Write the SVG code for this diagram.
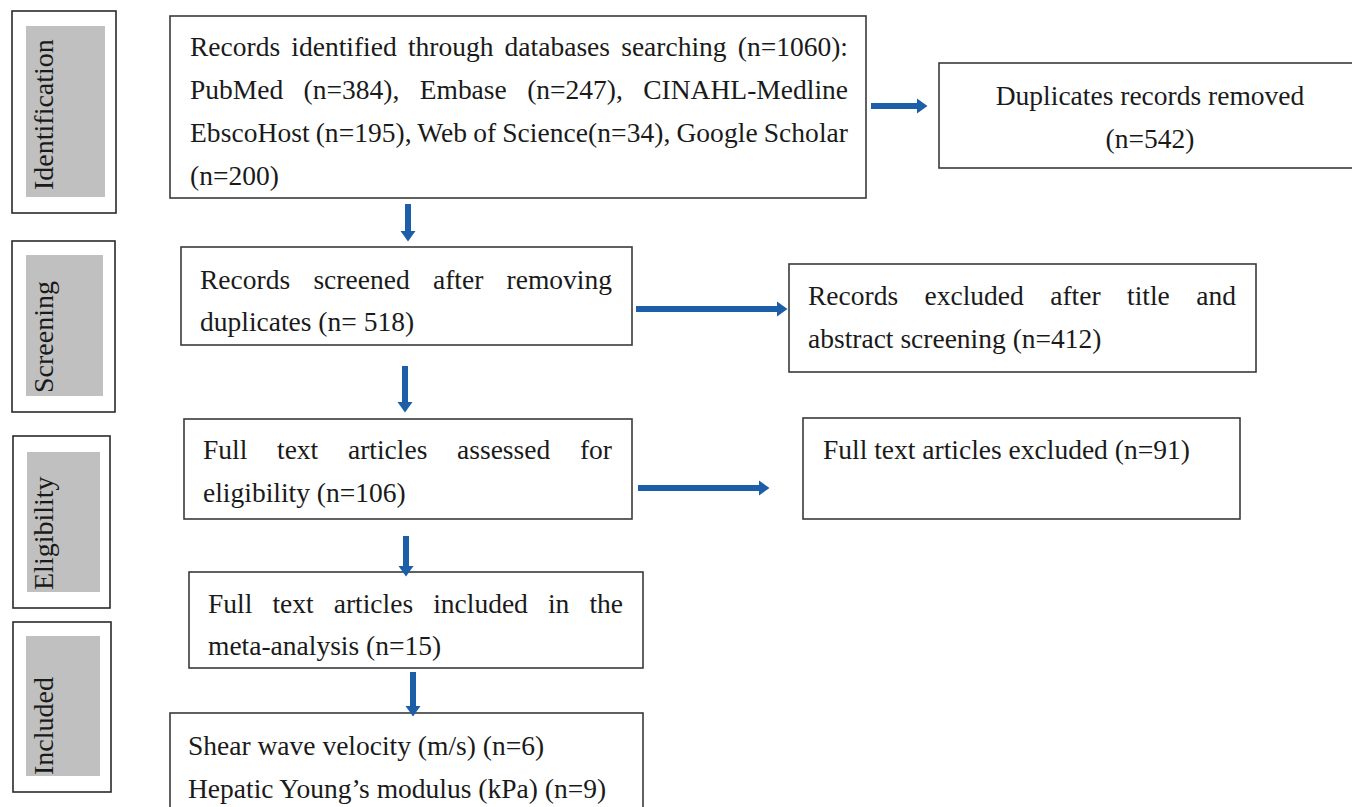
<svg xmlns="http://www.w3.org/2000/svg" width="1352" height="807" viewBox="0 0 1352 807">
  <style>
    .box { fill: #ffffff; stroke: #3a3a3a; stroke-width: 1.6; }
    .stage { fill: #ffffff; stroke: #2a2a2a; stroke-width: 1.6; }
    .band { fill: #c0c0c0; }
    .t { font-family: "Liberation Serif", "Times New Roman", serif; font-size: 27.5px; fill: #1a1a1a; }
    .lbl { font-family: "Liberation Serif", "Times New Roman", serif; font-size: 28px; fill: #1a1a1a; }
    .arrow { stroke: #1d5ea8; stroke-width: 6; fill: none; }
  </style>
  <defs>
    <marker id="head" markerUnits="userSpaceOnUse" markerWidth="11" markerHeight="16" refX="1" refY="8" orient="auto">
      <path d="M0,0.5 L10.5,8 L0,15.5 z" fill="#1d5ea8"/>
    </marker>
  </defs>

  <rect width="1352" height="807" fill="#ffffff"/>

  <!-- stage bands on the left -->
  <g id="stage-identification">
    <rect class="stage" x="12" y="11" width="104" height="202"/>
    <rect class="band" x="26" y="26" width="79" height="171"/>
    <text class="lbl" transform="translate(53,190) rotate(-90)">Identification</text>
  </g>
  <g id="stage-screening">
    <rect class="stage" x="12" y="241" width="103" height="171"/>
    <rect class="band" x="26" y="255" width="77" height="141"/>
    <text class="lbl" transform="translate(53,393) rotate(-90)">Screening</text>
  </g>
  <g id="stage-eligibility">
    <rect class="stage" x="13" y="436" width="97" height="172"/>
    <rect class="band" x="27" y="452" width="73" height="140"/>
    <text class="lbl" transform="translate(53,590) rotate(-90)">Eligibility</text>
  </g>
  <g id="stage-included">
    <rect class="stage" x="13" y="622" width="98" height="170"/>
    <rect class="band" x="26" y="636" width="74" height="140"/>
    <text class="lbl" transform="translate(53,775) rotate(-90)">Included</text>
  </g>

  <!-- flow boxes -->
  <g id="records-identified">
    <rect class="box" x="170" y="16" width="696" height="182"/>
    <text class="t" x="190" y="56" word-spacing="4.3" textLength="658" lengthAdjust="spacing">Records identified through databases searching (n=1060):</text>
    <text class="t" x="190" y="99" word-spacing="13.5" textLength="658" lengthAdjust="spacing">PubMed (n=384), Embase (n=247), CINAHL-Medline</text>
    <text class="t" x="190" y="142" word-spacing="-0.9" textLength="658" lengthAdjust="spacing">EbscoHost (n=195), Web of Science(n=34), Google Scholar</text>
    <text class="t" x="190" y="185">(n=200)</text>
  </g>

  <g id="duplicates-removed">
    <rect class="box" x="939" y="63" width="430" height="105"/>
    <text class="t" x="1150" y="105" text-anchor="middle">Duplicates records removed</text>
    <text class="t" x="1150" y="148" text-anchor="middle">(n=542)</text>
  </g>

  <g id="records-screened">
    <rect class="box" x="181" y="247" width="451" height="98"/>
    <text class="t" x="200" y="289" word-spacing="16.4" textLength="412" lengthAdjust="spacing">Records screened after removing</text>
    <text class="t" x="200" y="331">duplicates (n= 518)</text>
  </g>

  <g id="records-excluded">
    <rect class="box" x="789" y="264" width="467" height="108"/>
    <text class="t" x="808" y="305" word-spacing="19.6" textLength="428" lengthAdjust="spacing">Records excluded after title and</text>
    <text class="t" x="808" y="348">abstract screening (n=412)</text>
  </g>

  <g id="full-text-assessed">
    <rect class="box" x="184" y="419" width="448" height="100"/>
    <text class="t" x="203" y="459" word-spacing="22.8" textLength="409" lengthAdjust="spacing">Full text articles assessed for</text>
    <text class="t" x="203" y="502">eligibility (n=106)</text>
  </g>

  <g id="full-text-excluded">
    <rect class="box" x="803" y="418" width="437" height="101"/>
    <text class="t" x="823" y="459">Full text articles excluded (n=91)</text>
  </g>

  <g id="full-text-included">
    <rect class="box" x="189" y="572" width="454" height="96"/>
    <text class="t" x="208" y="613" word-spacing="13.2" textLength="415" lengthAdjust="spacing">Full text articles included in the</text>
    <text class="t" x="208" y="655">meta-analysis (n=15)</text>
  </g>

  <g id="outcomes">
    <rect class="box" x="170" y="713" width="473" height="110"/>
    <text class="t" x="188" y="755">Shear wave velocity (m/s) (n=6)</text>
    <text class="t" x="188" y="798">Hepatic Young’s modulus (kPa) (n=9)</text>
  </g>

  <!-- connectors -->
  <g id="connectors">
    <line class="arrow" x1="871" y1="106" x2="918" y2="106" marker-end="url(#head)"/>
    <line class="arrow" x1="408" y1="204" x2="408" y2="232" marker-end="url(#head)"/>
    <line class="arrow" x1="636" y1="309" x2="778" y2="309" marker-end="url(#head)"/>
    <line class="arrow" x1="405" y1="366" x2="405" y2="403" marker-end="url(#head)"/>
    <line class="arrow" x1="638" y1="488" x2="760" y2="488" marker-end="url(#head)"/>
    <line class="arrow" x1="406" y1="536" x2="406" y2="567" marker-end="url(#head)"/>
    <line class="arrow" x1="413" y1="672" x2="413" y2="707" marker-end="url(#head)"/>
  </g>
</svg>
